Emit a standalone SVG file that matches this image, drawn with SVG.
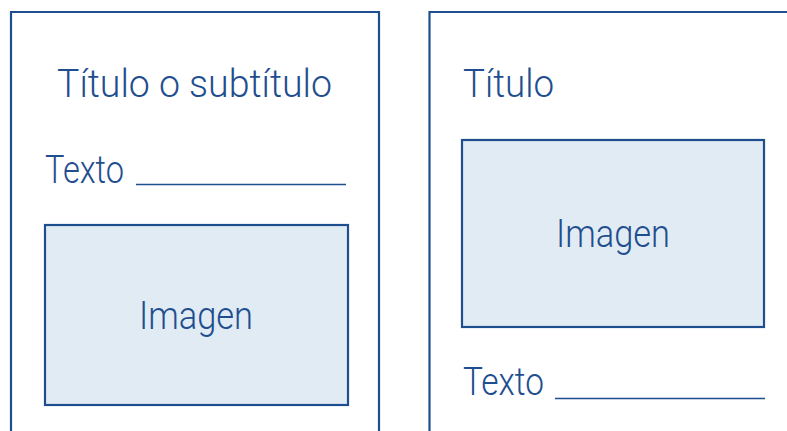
<svg xmlns="http://www.w3.org/2000/svg" width="787" height="431" viewBox="0 0 787 431">
<style>
.frame{fill:none;stroke:#1f4e8f;stroke-width:2.2}
.img{fill:#e1ebf4;stroke:#1f4e8f;stroke-width:2.2}
.rule{stroke:#1f4e8f;stroke-width:1.6}
text{font-family:Roboto,"Liberation Sans",Arial,sans-serif;font-weight:300;font-size:38px;fill:#1f4e8f}
</style>
<rect width="787" height="431" fill="#ffffff"/>
<g id="panel-left">
<path class="frame" d="M11 440 V12 H379 V440"/>
<text x="57" y="97" textLength="275" lengthAdjust="spacingAndGlyphs">Título o subtítulo</text>
<text x="45" y="183" textLength="79" lengthAdjust="spacingAndGlyphs">Texto</text>
<line class="rule" x1="136" y1="184.5" x2="346" y2="184.5"/>
<g id="image-left">
<rect class="img" x="45" y="225" width="303" height="180"/>
<text x="139" y="329" textLength="114" lengthAdjust="spacingAndGlyphs">Imagen</text>
</g>
</g>
<g id="panel-right">
<path class="frame" d="M429.5 440 V12 H800"/>
<text x="463" y="97" textLength="91" lengthAdjust="spacingAndGlyphs">Título</text>
<g id="image-right">
<rect class="img" x="462" y="140" width="302" height="187"/>
<text x="556" y="247" textLength="114" lengthAdjust="spacingAndGlyphs">Imagen</text>
</g>
<text x="463" y="395" textLength="81" lengthAdjust="spacingAndGlyphs">Texto</text>
<line class="rule" x1="555" y1="398.5" x2="765" y2="398.5"/>
</g>
<g id="connectors"/>
</svg>
